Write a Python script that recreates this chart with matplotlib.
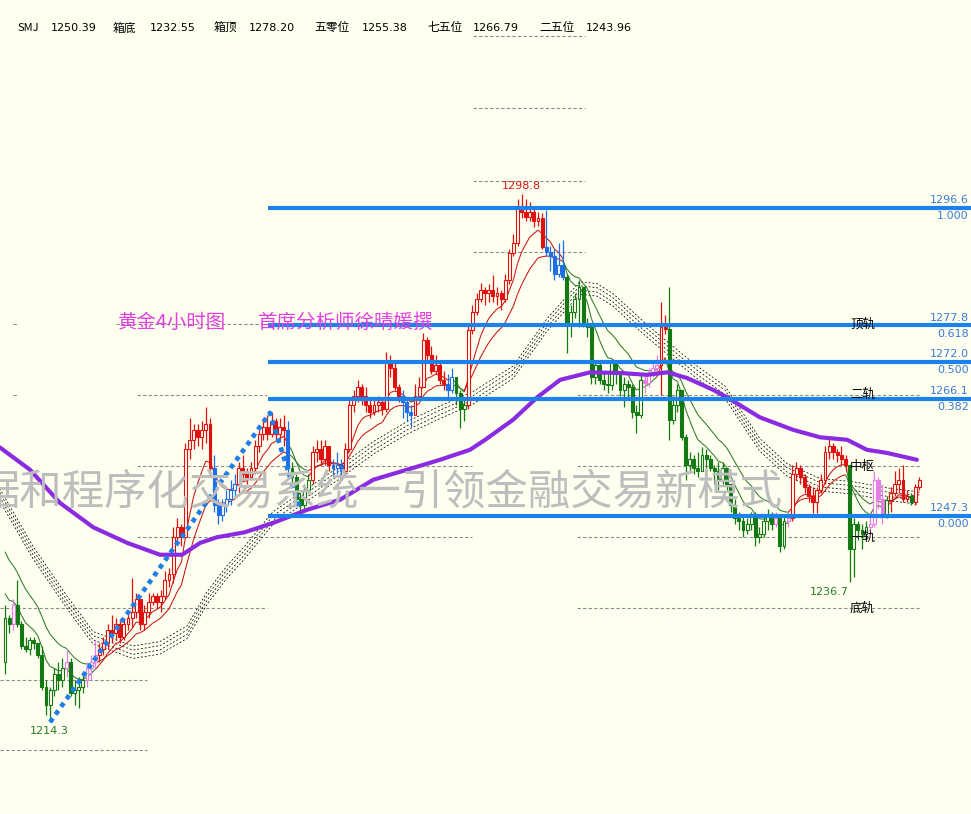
import numpy as np
import pandas as pd
import matplotlib
matplotlib.use('Agg')
import matplotlib.pyplot as plt
from matplotlib.collections import LineCollection

plt.rcParams['font.family'] = ['DejaVu Sans', 'Noto Sans CJK SC']

# ---- 4H candles (bar index 0..223), open = previous close ----
first_open = 1224.0
closes = [
    1231, 1230, 1233, 1230, 1226.5, 1226, 1227.5, 1227, 1225, 1220,
    1217, 1219.5, 1222, 1221, 1223, 1224, 1219, 1219.5, 1220, 1221,
    1223, 1224, 1225, 1226, 1227, 1229, 1228.5, 1230, 1228, 1230,
    1231, 1232, 1234, 1230, 1232, 1233.5, 1234.5, 1233.5, 1234.5, 1237,
    1238, 1244, 1245.5, 1244, 1258, 1259.5, 1261, 1260, 1261, 1262,
    1255, 1249, 1247.5, 1249, 1250, 1251.5, 1252.5, 1255, 1254, 1253.5,
    1255, 1258.5, 1260.5, 1261.5, 1260.5, 1262.5, 1260.5, 1261.5, 1261, 1255,
    1253.5, 1250, 1249, 1251.5, 1253, 1257.5, 1258, 1256.5, 1258.5, 1255.5,
    1255, 1255.5, 1254.5, 1258, 1265, 1266.5, 1268, 1266.5, 1265, 1264,
    1265, 1265.5, 1264.5, 1272, 1271, 1268, 1266.5, 1265.5, 1264, 1263.5,
    1266.5, 1268, 1275.5, 1273, 1270.5, 1271.5, 1269, 1268.5, 1267.5, 1269.5,
    1267, 1264.5, 1265, 1277, 1280, 1282, 1283.5, 1283, 1283.5, 1282.5,
    1283, 1282, 1285, 1289.4, 1291, 1296.8, 1296, 1295.2, 1296, 1294.5,
    1295, 1290.4, 1289.5, 1289, 1286, 1287.5, 1285.5, 1278, 1280, 1282,
    1284, 1278, 1277.5, 1269.5, 1271.5, 1269, 1268.5, 1268.2, 1272, 1270,
    1267.5, 1268.5, 1268, 1264, 1263.5, 1269, 1268.6, 1270, 1271, 1271.5,
    1277.5, 1277.3, 1262.7, 1265, 1267.5, 1260, 1255.5, 1256.5, 1255, 1254.5,
    1257, 1256.5, 1255, 1254.5, 1253, 1255, 1252.5, 1249, 1247, 1246.5,
    1245, 1246, 1247.5, 1244, 1244.5, 1246.5, 1247.5, 1246, 1247, 1242.5,
    1246.5, 1247, 1254, 1255, 1253.5, 1252, 1250.5, 1249.5, 1251.5, 1253,
    1257.5, 1258.5, 1257.5, 1257, 1256.5, 1255.5, 1242, 1246, 1245, 1244.5,
    1245.5, 1246, 1253, 1250, 1247.5, 1249.8, 1251, 1252.5, 1253, 1250,
    1250.5, 1249.5, 1252, 1253,
]
highs = [
    1233, 1231.5, 1234, 1237, 1230.5, 1228, 1228, 1228, 1227, 1226.5,
    1221, 1220, 1223, 1224, 1224.5, 1226, 1224.5, 1221, 1221.5, 1222,
    1224, 1225, 1227.5, 1227, 1228, 1230, 1231.5, 1231, 1230.5, 1231,
    1232, 1237.4, 1235, 1234, 1233, 1235, 1235, 1235, 1235.5, 1238.5,
    1239, 1245.5, 1247, 1246, 1259, 1263, 1262, 1262, 1262.5, 1264.7,
    1263, 1257, 1250, 1250, 1251.5, 1253, 1254, 1256, 1257, 1255,
    1256, 1259.5, 1261, 1262.5, 1263.5, 1264, 1263, 1263, 1263.5, 1262.5,
    1256, 1254, 1251, 1252.5, 1254, 1258.5, 1259.5, 1259.5, 1259.5, 1258.5,
    1256.5, 1257.5, 1256.5, 1259, 1266, 1267.5, 1269, 1268.5, 1268, 1266,
    1266, 1266.5, 1266, 1273.5, 1273, 1272, 1268.5, 1267.5, 1266, 1265,
    1268.5, 1269.5, 1276.6, 1276, 1274.5, 1273, 1272, 1270.5, 1270, 1271,
    1268.5, 1267.5, 1266, 1278, 1281, 1283, 1284.6, 1284, 1284.5, 1285.9,
    1284, 1283.5, 1286, 1290, 1292.5, 1298, 1298.8, 1298, 1297.5, 1296.5,
    1296, 1295.8, 1296.3, 1290.5, 1290, 1291, 1291.5, 1286, 1281, 1283,
    1285, 1284, 1279, 1277.5, 1272, 1272, 1270.5, 1270, 1272.5, 1272,
    1270.5, 1269.5, 1269, 1268.5, 1265, 1270, 1270, 1271, 1272, 1273,
    1281.5, 1279.5, 1284, 1266.5, 1268.5, 1266, 1260.5, 1257.5, 1257, 1257.5,
    1258.3, 1258, 1257, 1255.5, 1256, 1256, 1255, 1252, 1250, 1248,
    1247.5, 1247, 1248, 1248, 1245.5, 1247.5, 1248.5, 1248, 1248, 1247.5,
    1247.5, 1248, 1255.5, 1256, 1255.5, 1254, 1252.5, 1252, 1252, 1254,
    1258.5, 1259.8, 1259, 1258, 1258.5, 1257, 1255, 1247, 1246.5, 1246,
    1246.5, 1247.5, 1254.5, 1253.5, 1252.5, 1250.5, 1252, 1254.5, 1255, 1255.5,
    1251.5, 1251, 1252.5, 1253.5,
]
lows = [
    1222, 1228.5, 1229, 1229.5, 1226, 1225.5, 1225, 1226, 1224.5, 1219.5,
    1215.5, 1214.3, 1218.5, 1219.5, 1220, 1221.5, 1218.5, 1217, 1216.5, 1219,
    1220, 1221, 1223, 1224, 1225, 1226, 1227, 1227.5, 1227, 1227.5,
    1229, 1229.5, 1231, 1229, 1229, 1231, 1233, 1232.5, 1232, 1234,
    1236, 1236.5, 1243, 1242.5, 1244, 1256.5, 1258, 1258.5, 1258, 1259,
    1254, 1248, 1246, 1246.5, 1248, 1249, 1250.5, 1251, 1253, 1252.5,
    1253, 1254, 1257.5, 1259.5, 1259.5, 1260, 1259.5, 1259.5, 1258.5, 1254,
    1252, 1249, 1248, 1248.5, 1251, 1252.5, 1256, 1255.5, 1255.5, 1254.5,
    1253.5, 1254, 1253, 1254, 1257.5, 1264, 1265.5, 1265, 1264, 1263,
    1263.5, 1264, 1263.5, 1264, 1269.5, 1267.5, 1265.5, 1263, 1262.5, 1261.5,
    1265, 1266, 1268, 1272, 1270, 1270, 1268.5, 1267.5, 1266, 1267,
    1265, 1261.4, 1262.5, 1264.5, 1276.5, 1279.5, 1281.5, 1281, 1281.5, 1281.5,
    1281, 1280.3, 1281.5, 1284.5, 1289, 1290.5, 1295, 1294.5, 1294.5, 1293.5,
    1293.8, 1290, 1289, 1286.5, 1285, 1285.5, 1285, 1273.4, 1276, 1279,
    1277.5, 1277.5, 1276, 1268.5, 1268.5, 1268.5, 1267.5, 1267, 1267.5, 1268.5,
    1266.5, 1264.7, 1266, 1263, 1260.6, 1263, 1267, 1268, 1269.5, 1270,
    1266.7, 1276.5, 1259.5, 1262, 1264, 1259.5, 1253, 1254.5, 1254, 1253.5,
    1254.5, 1255, 1254.5, 1252.5, 1251.5, 1252.5, 1251.5, 1248, 1246, 1245,
    1243.9, 1244.5, 1245, 1242.5, 1243, 1244, 1245, 1245, 1245.5, 1241.5,
    1242, 1245.5, 1246.5, 1253, 1252.5, 1251, 1249.5, 1247.8, 1247.8, 1251,
    1252.5, 1256.5, 1256.5, 1256, 1255.5, 1254.5, 1236.7, 1237.5, 1243.5, 1242,
    1243.5, 1244.5, 1245.5, 1248.5, 1246, 1247, 1248, 1250.5, 1251, 1249.5,
    1249.5, 1249, 1249, 1251.5,
]
# indicator colour state per bar: r=up, b=pullback in up, g=down, p=bounce in down
regime_runs = [('g', 2), ('p', 1), ('g', 12), ('p', 1), ('g', 4), ('p', 3), ('r', 28),
               ('b', 6), ('r', 12), ('b', 1), ('g', 5), ('r', 5), ('b', 3), ('r', 14),
               ('b', 3), ('r', 8), ('b', 2), ('g', 3), ('r', 19), ('b', 5), ('g', 19),
               ('p', 4), ('r', 2), ('g', 26), ('p', 1), ('g', 2), ('p', 1), ('r', 14),
               ('g', 5), ('p', 4), ('g', 1), ('r', 5), ('g', 1), ('r', 2)]

# long MA (purple)
ma_long_idx = [-1.3, 6.1, 13.4, 21.5, 29.8, 37.8, 43.2, 47.6, 51.7, 58.5, 65.4, 73.7,
               81.7, 89.8, 98.0, 106.1, 113.4, 117.1, 123.9, 129.8, 135.4, 142.7,
               150.0, 156.6, 161.5, 166.3, 172.7, 176.1, 184.1, 192.2, 198.8, 205.4,
               210.2, 215.1, 222.4]
ma_long_val = [1258.3, 1254.7, 1249.4, 1245.5, 1243.0, 1241.1, 1241.1, 1243.0, 1243.9,
               1244.7, 1246.2, 1248.3, 1249.9, 1253.1, 1254.7, 1256.3, 1257.9, 1259.5,
               1262.7, 1266.3, 1269.1, 1270.3, 1270.2, 1269.9, 1270.3, 1269.4, 1267.5,
               1266.3, 1263.1, 1261.1, 1259.9, 1259.5, 1257.9, 1257.4, 1256.3]
# dashed channel centre
band_idx = [-1.3, 6.8, 15.1, 21.5, 31.2, 37.8, 44.4, 49.3, 54.1, 58.5, 65.4, 73.7, 81.7,
            89.8, 98.0, 106.1, 114.1, 123.9, 132.2, 140.2, 144.4, 148.3, 154.9, 161.5,
            168.8, 175.6, 184.1, 190.7, 198.8, 206.8, 215.1, 222.4]
band_val = [1250.7, 1241.5, 1233.5, 1227.8, 1225.5, 1226.2, 1228.7, 1234.2, 1238.3,
            1241.5, 1247.0, 1250.7, 1254.3, 1258.2, 1261.4, 1263.9, 1266.2, 1270.3,
            1277.9, 1283.8, 1283.5, 1281.9, 1277.9, 1274.2, 1270.3, 1267.1, 1258.7,
            1254.7, 1252.3, 1251.8, 1250.8, 1250.2]
band_offsets = [-1.0, -0.35, 0.35, 1.0]
ma_fast_seed, ma_slow_seed = 1236.0, 1243.0

# fibonacci retracement
fib_levels = [1296.6, 1277.8, 1272.0, 1266.1, 1247.3]
fib_ratios = ['1.000', '0.618', '0.500', '0.382', '0.000']
fib_start = 64.15

# pivot grid segments: (level, start bar, end bar)
pivot_segments = [
    (1232.6, -1.3, 64), (1221.0, -1.3, 34.6), (1209.8, -1.3, 34.6),
    (1278.0, 2.0, 3.0), (1266.7, 2.0, 3.0),
    (1278.0, 27, 64), (1266.7, 32.2, 64), (1255.3, 32.2, 113.9), (1243.9, 32.2, 113.9),
    (1324.1, 114.1, 141.5), (1312.6, 114.1, 141.5), (1300.9, 114.1, 141.5),
    (1289.6, 114.1, 141.5),
    (1266.7, 139.5, 223.2), (1255.3, 139.5, 223.2), (1243.9, 139.5, 223.2),
    (1232.6, 139.5, 223.2),
]
rail_names = ['顶轨', '二轨', '中枢', '一轨', '底轨']
rail_levels = [1278.0, 1266.7, 1255.3, 1243.9, 1232.6]

zigzag_idx = [11, 64.6, 72]
zigzag_val = [1214.3, 1263.8, 1248.3]

extremes = [('1298.8', 125.9, 1300.1, '#d01818'), ('1214.3', 10.7, 1212.9, '#2a7a2a'),
            ('1236.7', 201.0, 1235.1, '#2a7a2a')]

head_names = ['SMJ', '箱底', '箱顶', '五零位', '七五位', '二五位']
head_values = ['1250.39', '1232.55', '1278.20', '1255.38', '1266.79', '1243.96']

title_a = '黄金4小时图'
title_b = '首席分析师徐晴媛撰'
watermark = '据和程序化交易系统一引领金融交易新模式'

BG = '#FFFFF0'
W, H = 971, 814

regime = ''.join(c * n for c, n in regime_runs)
closes = np.array(closes, float)
opens = np.concatenate([[first_open], closes[:-1]])
highs = np.maximum(np.array(highs, float), np.maximum(opens, closes))
lows = np.minimum(np.array(lows, float), np.minimum(opens, closes))
idx = np.arange(len(closes))

fig = plt.figure(figsize=(W / 100, H / 100), dpi=100)
fig.patch.set_facecolor(BG)
ax = fig.add_axes([0, 0, 1, 1])
ax.set_facecolor(BG)
ax.set_xlim(-1.22, 235.6)
ax.set_ylim(1199.6, 1329.9)
ax.axis('off')

# watermark (clipped at the left edge, as in the original)
fig.text(-22 / W, 1 - 492 / H, watermark, fontsize=30.5, color='#bdbdbd',
         family=['Noto Sans CJK SC'], va='center', ha='left', zorder=1)

# pivot grid
for lvl, a, b in pivot_segments:
    ax.plot([a, b], [lvl, lvl], color='#8c8c8c', lw=0.8, ls=(0, (3, 2)), zorder=2)

# dashed channel
for off in band_offsets:
    ax.plot(band_idx, np.array(band_val) + off, color='black', lw=0.55,
            ls=(0, (2.5, 2.5)), zorder=3)

# short / mid moving averages
ma_fast = pd.Series(np.r_[ma_fast_seed, closes]).ewm(span=8, adjust=False).mean().values[1:]
ma_slow = pd.Series(np.r_[ma_slow_seed, closes]).ewm(span=16, adjust=False).mean().values[1:]
seg_cols = ['#c81010' if regime[i + 1] in 'rb' else '#2a7a2a' for i in range(len(idx) - 1)]
for ma in (ma_fast, ma_slow):
    pts = np.column_stack([idx, ma])
    segs = np.stack([pts[:-1], pts[1:]], axis=1)
    ax.add_collection(LineCollection(segs, colors=seg_cols, linewidths=0.75, zorder=4))

# candles
col_map = {'r': '#e01010', 'g': '#137a13', 'b': '#1e6fe6', 'p': '#e67ee6'}
cols = [col_map[r] for r in regime]
ax.vlines(idx, lows, highs, colors=cols, lw=0.9, zorder=5)
body_lo = np.minimum(opens, closes)
body_h = np.maximum(np.abs(closes - opens), 0.15)
faces = [BG if c >= o else col for c, o, col in zip(closes, opens, cols)]
ax.bar(idx, body_h, bottom=body_lo, width=0.7, color=faces, edgecolor=cols,
       linewidth=0.8, zorder=6)

# long MA
ax.plot(ma_long_idx, ma_long_val, color='#8a2be2', lw=3.0, zorder=7,
        solid_capstyle='round', solid_joinstyle='round')

# trend zigzag
ax.plot(zigzag_idx, zigzag_val, color='#1e7fe6', lw=3.4, ls=(0, (1, 1)), zorder=8)

# fibonacci lines
for lvl, r in zip(fib_levels, fib_ratios):
    ax.plot([fib_start, 235.6], [lvl, lvl], color='#1a82ea', lw=3.0, zorder=9,
            solid_capstyle='butt')
    ax.text(235.1, lvl + 0.45, f'{lvl:.1f}', color='#3c7ad6', fontsize=8,
            ha='right', va='bottom', zorder=10)
    ax.text(235.1, lvl - 0.55, r, color='#3c7ad6', fontsize=8,
            ha='right', va='top', zorder=10)

# rail labels
for name, lvl in zip(rail_names, rail_levels):
    ax.text(206.1, lvl, name, fontsize=9, color='black', ha='left', va='center',
            family=['Noto Sans CJK SC'], zorder=10)

for txt, xi, yv, c in extremes:
    ax.text(xi, yv, txt, fontsize=8, color=c, ha='center', va='center', zorder=10)

# title
ax.text((118 - 5) / 4.1, 1296.6 - (322 - 208) / 6.247, title_a, fontsize=14,
        color='#e040e0', family=['Noto Sans CJK SC'], ha='left', va='center', zorder=10)
ax.text((258 - 5) / 4.1, 1296.6 - (322 - 208) / 6.247, title_b, fontsize=14,
        color='#e040e0', family=['Noto Sans CJK SC'], ha='left', va='center', zorder=10)

# header line
name_px = [17, 113, 214, 314, 427, 539]
value_px = [51, 150, 249, 362, 473, 586]
for n, v, nx, vx in zip(head_names, head_values, name_px, value_px):
    fig.text(nx / W, 1 - 28 / H, n, fontsize=8.5 if n != 'SMJ' else 8, color='black',
             va='center', family=['Noto Sans CJK SC', 'DejaVu Sans'])
    fig.text(vx / W, 1 - 28 / H, v, fontsize=8, color='black', va='center')

fig.savefig('out.png', dpi=100, facecolor=BG)
